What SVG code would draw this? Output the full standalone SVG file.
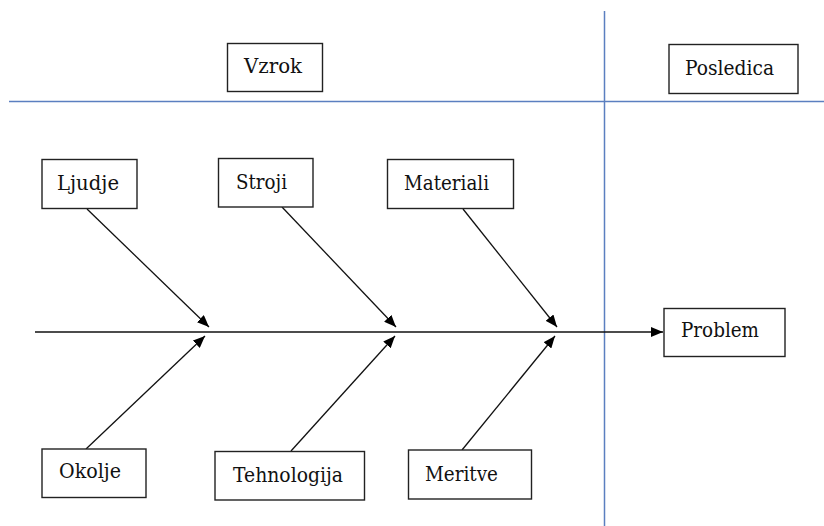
<svg xmlns="http://www.w3.org/2000/svg" width="824" height="526" viewBox="0 0 824 526">
<style>
.box{fill:#fff;stroke:#222;stroke-width:1.4}
.t{font-family:"DejaVu Serif",serif;font-size:21px;fill:#111}
.blue{stroke:#5b7fc0;stroke-width:1.5;fill:none}
.arr{stroke:#111;stroke-width:1.3;fill:none;marker-end:url(#ah)}
</style>
<defs>
<marker id="ah" viewBox="0 0 12 10" refX="12" refY="5" markerWidth="12" markerHeight="10" markerUnits="userSpaceOnUse" orient="auto">
<path d="M0,0 L12,5 L0,10 Z" fill="#000"/>
</marker>
</defs>
<rect width="824" height="526" fill="#fff"/>
<g id="dividers">
<line class="blue" x1="9" y1="101.5" x2="824" y2="101.5"/>
<line class="blue" x1="604.5" y1="11" x2="604.5" y2="526"/>
</g>
<g id="connectors">
<line class="arr" x1="35" y1="332" x2="663" y2="332"/>
<line class="arr" x1="87" y1="209" x2="209" y2="327"/>
<line class="arr" x1="282" y1="207" x2="396" y2="327"/>
<line class="arr" x1="463" y1="209" x2="557" y2="327"/>
<line class="arr" x1="86" y1="449" x2="205" y2="336"/>
<line class="arr" x1="291" y1="451" x2="395" y2="336"/>
<line class="arr" x1="462" y1="450" x2="555" y2="336"/>
</g>
<g id="vzrok"><rect class="box" x="227.5" y="43.5" width="95" height="48"/><text class="t" x="244" y="73" textLength="58" lengthAdjust="spacingAndGlyphs">Vzrok</text></g>
<g id="posledica"><rect class="box" x="669" y="44.5" width="129" height="49"/><text class="t" x="685" y="75" textLength="89" lengthAdjust="spacingAndGlyphs">Posledica</text></g>
<g id="ljudje"><rect class="box" x="42" y="159.5" width="95" height="49"/><text class="t" x="57" y="190" textLength="62" lengthAdjust="spacingAndGlyphs">Ljudje</text></g>
<g id="stroji"><rect class="box" x="218.5" y="158.5" width="94.5" height="48.5"/><text class="t" x="236" y="189" textLength="51" lengthAdjust="spacingAndGlyphs">Stroji</text></g>
<g id="materiali"><rect class="box" x="387.5" y="159.5" width="126" height="49"/><text class="t" x="404" y="190" textLength="85" lengthAdjust="spacingAndGlyphs">Materiali</text></g>
<g id="problem"><rect class="box" x="664" y="308.5" width="121" height="48"/><text class="t" x="681" y="337" textLength="78" lengthAdjust="spacingAndGlyphs">Problem</text></g>
<g id="okolje"><rect class="box" x="42" y="449" width="104" height="48.5"/><text class="t" x="59" y="478" textLength="62" lengthAdjust="spacingAndGlyphs">Okolje</text></g>
<g id="tehnologija"><rect class="box" x="215" y="451.5" width="149.5" height="48.5"/><text class="t" x="233" y="482" textLength="110" lengthAdjust="spacingAndGlyphs">Tehnologija</text></g>
<g id="meritve"><rect class="box" x="408.5" y="450" width="123" height="49"/><text class="t" x="425" y="481" textLength="73" lengthAdjust="spacingAndGlyphs">Meritve</text></g>
</svg>
